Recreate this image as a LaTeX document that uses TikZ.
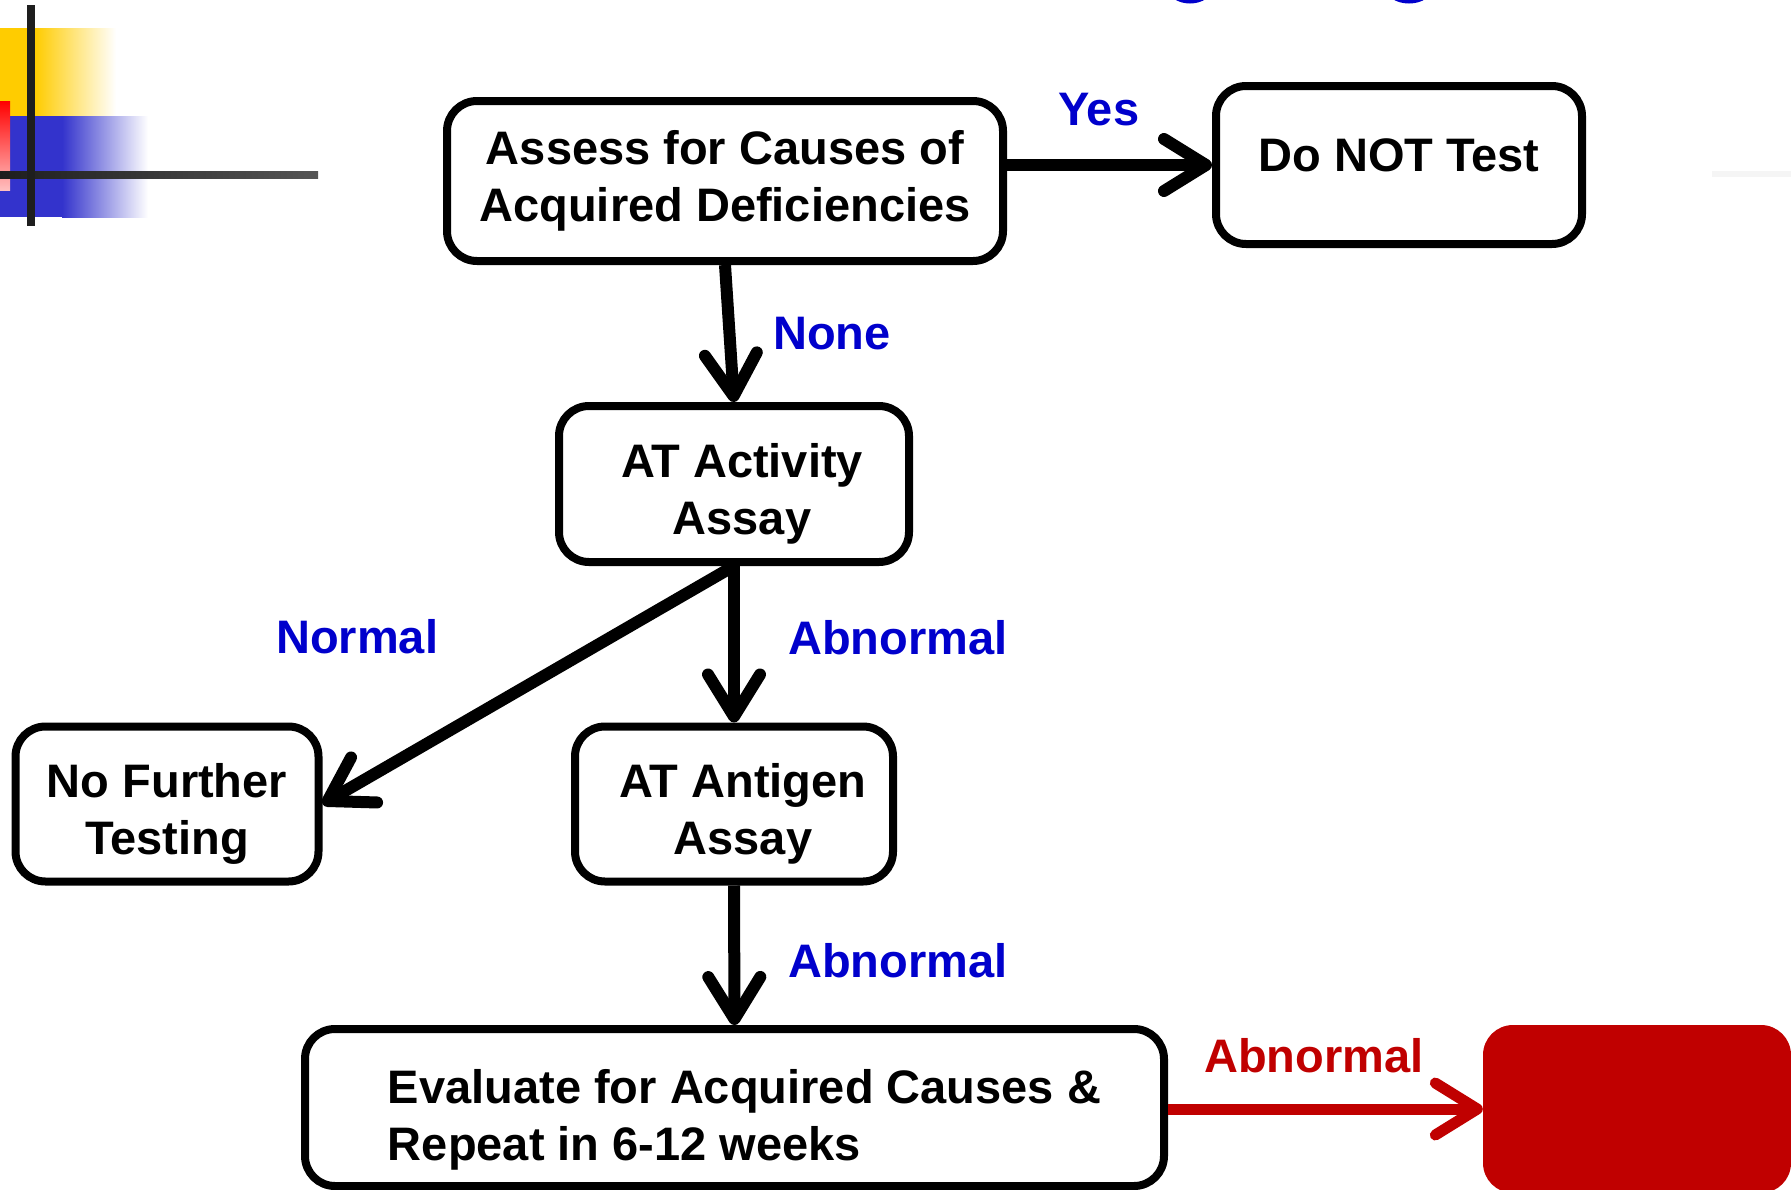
\documentclass[tikz,border=0pt]{standalone}
\usepackage{fontspec}
\setmainfont{Liberation Sans}
\usetikzlibrary{arrows.meta}
\definecolor{lblue}{HTML}{0000CC}
\definecolor{dred}{HTML}{C00000}
\definecolor{dyel}{HTML}{FFCC00}
\definecolor{dblu}{HTML}{3333CC}
\definecolor{darkline}{HTML}{1E1E1E}
\definecolor{midline}{HTML}{555555}
\begin{document}
\begin{tikzpicture}[x=1pt,y=-1pt,
  box/.style={draw=black, line width=8pt, rounded corners=30pt, fill=white, inner sep=0pt, align=center,
    font=\fontsize{47}{57}\selectfont\bfseries},
  arr/.style={line width=12pt, -{Straight Barb[length=42pt,width=52pt,round]}},
  lbl/.style={anchor=base west, inner sep=0pt, text=lblue, font=\fontsize{47}{57}\selectfont\bfseries},
]
\useasboundingbox (0,0) rectangle (1791,1189);
\clip (0,0) rectangle (1791,1189);
% decoration top left
\fill[dyel] (0,28) rectangle (36,116);
\shade[left color=dyel, right color=white] (35,28) rectangle (116,116);
\fill[dblu] (0,116) rectangle (63,217);
\shade[left color=dblu, right color=white] (62,116) rectangle (148,217);
\shade[top color=red, bottom color=red!25] (0,101) rectangle (10,190);
\shade[left color=darkline, right color=midline] (0,171) rectangle (318,178);
\fill[darkline] (27,5) rectangle (35,226);
\fill[black!4] (1712,171) rectangle (1791,177);
% title fragments at top edge
\draw[lblue, line width=7pt] (1190,-14) ellipse [x radius=20, y radius=14];
\draw[lblue, line width=7pt] (1409,-14) ellipse [x radius=21, y radius=14];
% boxes
\node[box, minimum width=556pt, minimum height=160pt] (A) at (725,181) {Assess for Causes of\\Acquired Deficiencies};
\node[box, minimum width=366pt, minimum height=158pt] (B) at (1399,165) {Do NOT Test\rule[-20pt]{0pt}{20pt}};
\node[box, minimum width=350pt, minimum height=156pt] (C) at (734,484) {\hspace*{16pt}\rule{0pt}{54pt}AT Activity\\\hspace*{16pt}Assay};
\node[box, minimum width=303pt, minimum height=155pt] (D) at (167,804) {\rule{0pt}{54pt}No Further\\Testing};
\node[box, minimum width=318pt, minimum height=155pt] (E) at (734,804) {\hspace*{18pt}\rule{0pt}{54pt}AT Antigen\\\hspace*{18pt}Assay};
\node[box, align=left, minimum width=859pt, minimum height=157pt] (F) at (734.5,1107.5) {\hspace*{20pt}\rule{0pt}{58pt}Evaluate for Acquired Causes \&\\\hspace*{20pt}Repeat in 6-12 weeks};
\node[fill=dred, rounded corners=30pt, minimum width=308pt, minimum height=168pt, inner sep=0pt] (G) at (1637,1109) {};
% connectors
\draw[arr] (A.east |- B.west) -- (B.west);
\draw[arr] (A.south) -- (C.north);
\draw[arr] (C.south) -- (D.east);
\draw[arr] (C.south) -- (E.north);
\draw[arr] (E.south) -- (F.north);
\draw[arr, draw=dred, line width=11pt] (F.east |- G.west) -- (G.west);
% labels
\node[lbl] (yes) at (1058,125) {Yes};
\node[lbl] (none) at (773,349) {None};
\node[lbl] (normal) at (276,653) {Normal};
\node[lbl] (ab1) at (788,654) {Abnormal};
\node[lbl] (ab2) at (788,977) {Abnormal};
\node[lbl, text=dred] (ab3) at (1204,1072) {Abnormal};
\end{tikzpicture}
\end{document}
